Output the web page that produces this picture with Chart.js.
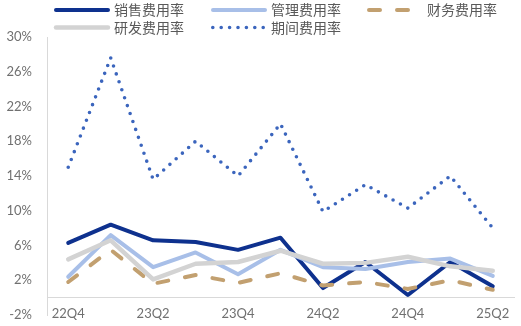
<!DOCTYPE html>
<html>
<head>
<meta charset="utf-8">
<script src="https://cdn.jsdelivr.net/npm/chart.js@4/dist/chart.umd.min.js"></script>
<style>
  html, body { margin: 0; padding: 0; background: #fff; }
  #wrap { width: 521px; height: 326px; position: relative; }
</style>
</head>
<body>
<div id="wrap"><canvas id="chart"></canvas></div>
<script>
// Quarterly expense ratios (%)
const quarters = ['22Q4', '23Q1', '23Q2', '23Q3', '23Q4', '24Q1', '24Q2', '24Q3', '24Q4', '25Q1', '25Q2'];
const salesRate  = [6.3, 8.4, 6.6, 6.4, 5.5, 6.9, 1.1, 4.1, 0.3, 4.1, 1.3];
const adminRate  = [2.4, 7.2, 3.5, 5.2, 2.7, 5.5, 3.5, 3.3, 4.1, 4.5, 2.5];
const financeRate = [1.8, 5.5, 1.6, 2.6, 1.7, 2.8, 1.4, 1.8, 1.0, 2.0, 0.9];
const rdRate     = [4.4, 6.6, 2.1, 3.9, 4.1, 5.4, 3.9, 4.0, 4.7, 3.6, 3.1];
const periodRate = [15.0, 27.6, 13.6, 18.0, 14.0, 20.0, 9.9, 13.0, 10.3, 14.0, 8.0];
const seriesNames = ['销售费用率', '管理费用率', '财务费用率', '研发费用率', '期间费用率'];
const yMin = -2, yMax = 30, yStep = 4;

const TEXT = '#595959';
const TICK = '#707070';
const AXIS = '#D9D9D9';

// legend drawn Excel-style: fixed columns, two rows
const LEGEND_X = [54, 211, 367];
const LEGEND_Y = [10, 27.5];
const legendPlugin = {
  id: 'excelLegend',
  afterDraw(chart) {
    const ctx = chart.ctx;
    chart.data.datasets.forEach((ds, i) => {
      const x = LEGEND_X[i % 3];
      const y = LEGEND_Y[Math.floor(i / 3)];
      ctx.save();
      ctx.strokeStyle = ds.borderColor;
      ctx.lineWidth = ds.borderWidth;
      ctx.lineCap = ds.borderCapStyle;
      ctx.setLineDash(ds.borderDash || []);
      ctx.beginPath();
      const inset = ds.borderDash ? ds.borderWidth / 2 : 2;
      ctx.moveTo(x + inset, y);
      ctx.lineTo(x + 54, y);
      ctx.stroke();
      ctx.restore();
      ctx.save();
      ctx.fillStyle = TEXT;
      ctx.font = '14px "Noto Sans CJK SC"';
      ctx.textBaseline = 'middle';
      ctx.fillText(ds.label, x + 60, y);
      ctx.restore();
    });
  }
};

const styles = [
  { color: '#0E318E', width: 4 },
  { color: '#A8BFE8', width: 4 },
  { color: '#C2A070', width: 4, dash: [11, 17] },
  { color: '#D3D3D3', width: 4.5 },
  { color: '#3B65BD', width: 3.6, dash: [0, 8.4] }
];
const values = [salesRate, adminRate, financeRate, rdRate, periodRate];

const datasets = values.map((data, i) => ({
  label: seriesNames[i],
  data: data,
  borderColor: styles[i].color,
  backgroundColor: styles[i].color,
  borderWidth: styles[i].width,
  borderDash: styles[i].dash,
  borderCapStyle: 'round',
  borderJoinStyle: 'round',
  pointRadius: 0,
  tension: 0,
  fill: false,
  order: values.length - i
}));

new Chart(document.getElementById('chart'), {
  type: 'line',
  data: { labels: quarters, datasets },
  plugins: [legendPlugin],
  options: {
    responsive: true,
    maintainAspectRatio: false,
    animation: false,
    layout: { padding: { top: 37, bottom: 11, left: 0, right: 7 } },
    plugins: {
      legend: { display: false },
      tooltip: { enabled: false }
    },
    scales: {
      x: {
        position: { y: 0 },
        offset: true,
        grid: { display: true, color: 'transparent', drawTicks: false },
        border: { color: AXIS, width: 1 },
        ticks: {
          autoSkip: false,
          maxRotation: 0,
          padding: 8,
          color: TICK,
          font: { family: 'Lato', size: 13 },
          callback: (v, i) => (i % 2 === 0 ? quarters[i] : '')
        }
      },
      y: {
        min: yMin,
        max: yMax,
        afterFit: (scale) => {
          scale.width = 47;
          // label padding should not push the plot area inwards
          scale.paddingTop = 0;
          scale.paddingBottom = 0;
        },
        grid: { display: true, color: 'transparent', drawTicks: false },
        border: { color: AXIS, width: 1 },
        ticks: {
          stepSize: yStep,
          padding: 15,
          color: TICK,
          font: { family: 'Lato', size: 13 },
          callback: (v) => v + '%'
        }
      }
    }
  }
});
</script>
</body>
</html>
